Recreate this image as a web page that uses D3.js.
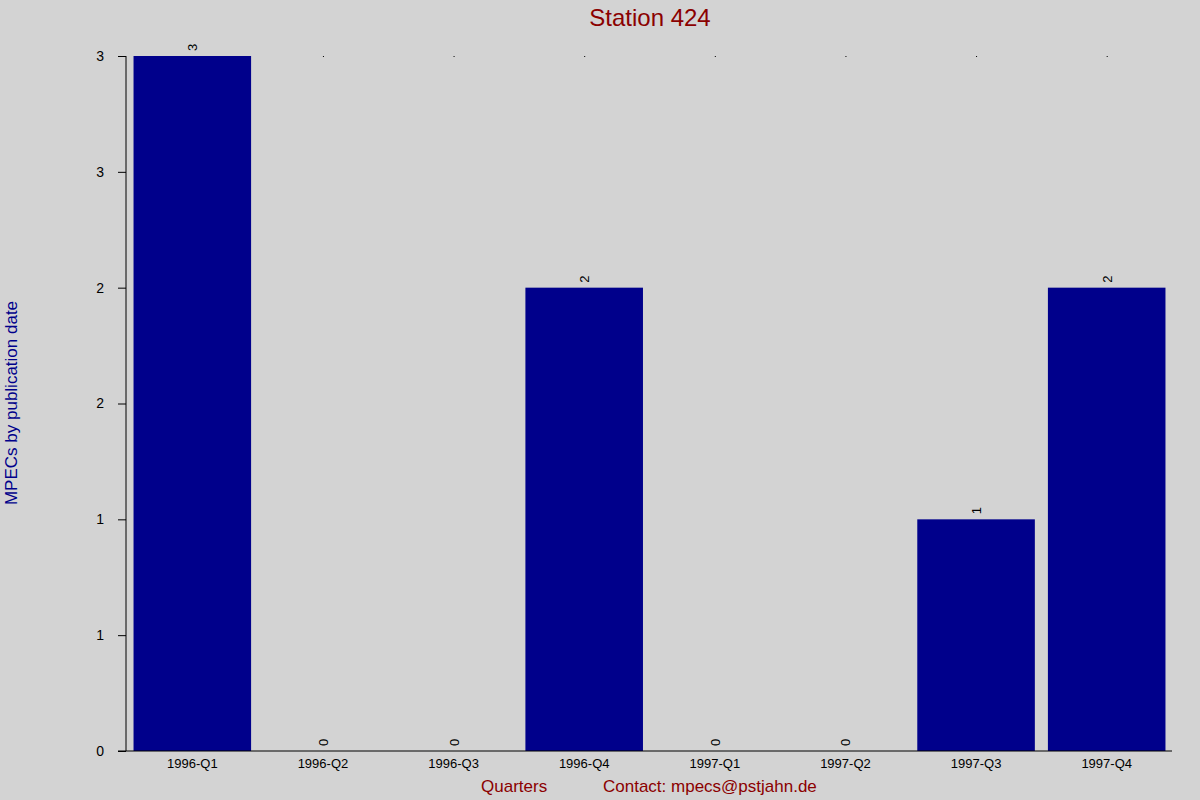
<!DOCTYPE html>
<html><head><meta charset="utf-8">
<script src="https://cdn.jsdelivr.net/npm/d3@7"></script>
<style>body{margin:0;background:#d3d3d3;font-family:"Liberation Sans",Arial,sans-serif}</style>
</head><body><svg id="c" width="1200" height="800"></svg>
<script>
const quarters = ["1996-Q1","1996-Q2","1996-Q3","1996-Q4","1997-Q1","1997-Q2","1997-Q3","1997-Q4"];
const counts = [3,0,0,2,0,0,1,2];
const yTicks = [0,0.5,1,1.5,2,2.5,3];

const svg = d3.select("#c");
svg.append("rect").attr("width",1200).attr("height",800).attr("fill","#d3d3d3");
const mLeft = 127, mRight = 1172, mTop = 56, mBottom = 751;

const x = d3.scaleBand().domain(quarters).range([mLeft, mRight]).paddingInner(0.1).paddingOuter(0.05);
const y = d3.scaleLinear().domain([0,3]).range([mBottom, mTop]);

svg.selectAll(".bar").data(counts).enter().append("rect")
  .attr("x",(d,i)=>x(quarters[i])).attr("width",x.bandwidth())
  .attr("y",d=>y(d)).attr("height",d=>mBottom-y(d)).attr("fill","#00008b");

// small dots at top for each band
svg.selectAll(".dot").data(quarters.slice(1)).enter().append("rect")
  .attr("x",d=>x(d)+x.bandwidth()/2).attr("y",mTop).attr("width",1).attr("height",1).attr("fill","#000");

svg.selectAll(".lbl").data(counts).enter().append("text")
  .attr("transform",(d,i)=>`translate(${x(quarters[i])+x.bandwidth()/2+5},${y(d)-5}) rotate(-90)`)
  .attr("font-size",13).attr("fill","#000").text(d=>d);

const ya = svg.append("g").attr("transform",`translate(${mLeft-1},0)`)
  .call(d3.axisLeft(y).tickValues(yTicks).tickFormat(d3.format(".0f")).tickSizeOuter(0).tickSize(8).tickPadding(14));
ya.select(".domain").attr("d",`M0,${mTop}V${mBottom}`);
ya.selectAll("text").attr("font-size",14).attr("font-family","Liberation Sans, Arial");

const xa = svg.append("g").attr("transform",`translate(0,${mBottom})`)
  .call(d3.axisBottom(x).tickSize(0).tickPadding(8));
xa.select(".domain").attr("d",`M${mLeft-9},0H${mRight}`);
xa.selectAll("text").attr("font-size",13).attr("font-family","Liberation Sans, Arial");

svg.append("text").attr("x",650).attr("y",26).attr("text-anchor","middle")
  .attr("font-size",24).attr("fill","#8b0000").text("Station 424");
svg.append("text").attr("transform","translate(17,403) rotate(-90)").attr("text-anchor","middle")
  .attr("font-size",17).attr("fill","#00008b").text("MPECs by publication date");
svg.append("text").attr("x",481).attr("y",792).attr("font-size",17).attr("fill","#8b0000").text("Quarters");
svg.append("text").attr("x",603).attr("y",792).attr("font-size",17).attr("fill","#8b0000").text("Contact: mpecs\u0040pstjahn.de");
</script></body></html>
